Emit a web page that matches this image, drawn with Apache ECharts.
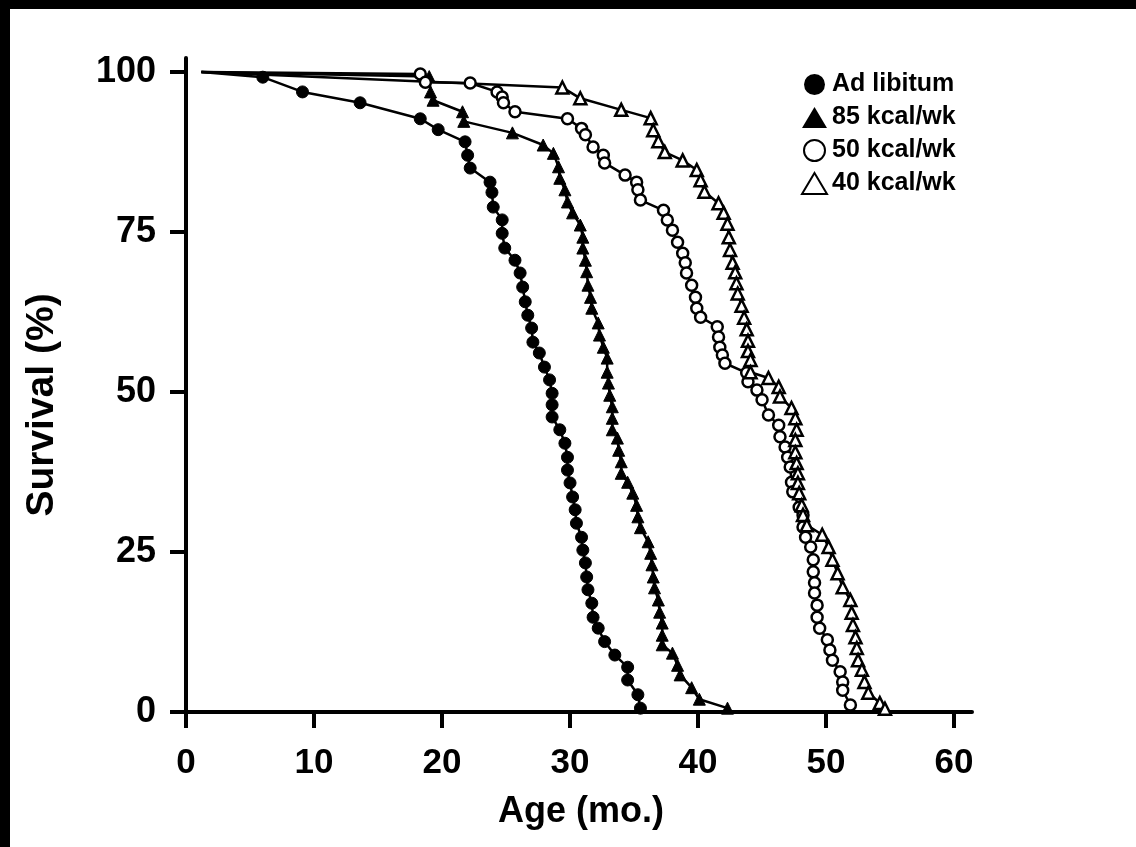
<!DOCTYPE html>
<html>
<head>
<meta charset="utf-8">
<script src="https://cdn.jsdelivr.net/npm/echarts@6/dist/echarts.min.js"></script>
<style>
  html, body { margin: 0; padding: 0; background: #fff; }
  #chart { width: 1136px; height: 847px; }
</style>
</head>
<body>
<div id="chart"></div>
<script>
// Survival curves: age in months, survival in %
var seriesNames = ['Ad libitum', '85 kcal/wk', '50 kcal/wk', '40 kcal/wk'];

var adLibAge = [1.2, 6.0, 9.1, 13.6, 18.3, 19.7, 21.8, 22.0, 22.2, 23.75, 23.9, 24.0, 24.7, 24.7, 24.9, 25.7, 26.1, 26.3, 26.5, 26.7, 27.0, 27.1, 27.6, 28.0, 28.4, 28.6, 28.6, 28.6, 29.2, 29.6, 29.8, 29.8, 30.0, 30.2, 30.4, 30.5, 30.9, 31.0, 31.2, 31.3, 31.4, 31.7, 31.8, 32.2, 32.7, 33.5, 34.5, 34.5, 35.3, 35.5];
var adLibSurv = [100, 99.2, 96.9, 95.2, 92.7, 91.0, 89.1, 87.0, 85.0, 82.8, 81.2, 78.9, 76.9, 74.8, 72.5, 70.6, 68.6, 66.4, 64.1, 62.0, 60.0, 57.8, 56.1, 53.9, 51.9, 49.8, 48.0, 46.1, 44.1, 42.0, 39.8, 37.8, 35.8, 33.6, 31.6, 29.5, 27.3, 25.3, 23.3, 21.1, 19.1, 17.0, 14.8, 13.1, 11.0, 8.9, 7.0, 5.0, 2.7, 0.6];

var kcal85Age = [1.2, 19.0, 19.1, 19.3, 21.6, 21.7, 25.5, 27.9, 28.7, 29.1, 29.2, 29.6, 29.8, 30.2, 30.8, 31.0, 31.0, 31.2, 31.3, 31.4, 31.6, 31.7, 32.2, 32.3, 32.6, 32.9, 32.9, 33.0, 33.1, 33.3, 33.3, 33.3, 33.7, 33.8, 34.0, 34.0, 34.5, 34.9, 35.2, 35.3, 35.5, 36.1, 36.3, 36.4, 36.5, 36.6, 36.9, 37.0, 37.2, 37.2, 37.2, 38.0, 38.4, 38.6, 39.5, 40.1, 42.3];
var kcal85Surv = [100, 99.3, 96.9, 95.6, 93.8, 92.3, 90.5, 88.6, 87.3, 85.2, 83.4, 81.6, 79.7, 78.0, 76.1, 74.2, 72.5, 70.6, 68.8, 66.7, 64.8, 63.1, 60.8, 58.9, 57.0, 55.3, 53.1, 51.4, 49.5, 47.7, 45.9, 44.1, 42.8, 40.9, 39.1, 37.3, 35.9, 34.2, 32.3, 30.5, 28.8, 26.6, 24.8, 23.0, 21.1, 19.4, 17.5, 15.6, 13.9, 12.0, 10.5, 9.2, 7.3, 5.8, 3.8, 2.0, 0.6];

var kcal50Age = [1.2, 18.3, 18.7, 22.2, 24.3, 24.7, 24.8, 25.7, 29.8, 30.9, 31.2, 31.8, 32.6, 32.7, 34.3, 35.2, 35.3, 35.5, 37.3, 37.6, 38.0, 38.4, 38.8, 39.0, 39.1, 39.5, 39.8, 39.9, 40.2, 41.5, 41.6, 41.7, 41.9, 42.1, 43.8, 43.9, 44.6, 45.0, 45.5, 46.3, 46.4, 46.8, 47.0, 47.2, 47.3, 47.4, 47.9, 48.2, 48.2, 48.4, 48.8, 49.0, 49.0, 49.1, 49.1, 49.3, 49.3, 49.5, 50.1, 50.3, 50.5, 51.1, 51.3, 51.3, 51.9];
var kcal50Surv = [100, 99.7, 98.4, 98.3, 96.9, 96.1, 95.2, 93.8, 92.7, 91.2, 90.2, 88.3, 87.0, 85.8, 83.9, 82.8, 81.6, 80.0, 78.4, 76.9, 75.3, 73.4, 71.7, 70.2, 68.6, 66.7, 64.8, 63.1, 61.7, 60.2, 58.6, 57.0, 55.8, 54.5, 53.0, 51.6, 50.3, 48.8, 46.4, 44.8, 43.0, 41.4, 39.8, 38.3, 35.9, 34.4, 32.0, 30.8, 28.9, 27.3, 25.8, 23.8, 21.9, 20.2, 18.6, 16.7, 14.8, 13.1, 11.3, 9.7, 8.1, 6.3, 4.7, 3.4, 1.1];

var kcal40Age = [1.2, 29.4, 30.8, 34.0, 36.3, 36.5, 36.9, 37.4, 38.8, 39.9, 40.2, 40.5, 41.6, 42.0, 42.3, 42.4, 42.5, 42.7, 42.9, 43.0, 43.1, 43.4, 43.6, 43.8, 43.9, 43.9, 44.1, 44.1, 45.5, 46.3, 46.4, 47.3, 47.6, 47.7, 47.6, 47.6, 47.7, 47.8, 47.8, 47.9, 48.1, 48.2, 48.5, 49.7, 50.2, 50.5, 50.9, 51.3, 51.9, 52.0, 52.1, 52.3, 52.4, 52.5, 52.8, 53.0, 53.3, 54.2, 54.6];
var kcal40Surv = [100, 97.6, 95.9, 94.1, 92.8, 90.9, 89.2, 87.5, 86.2, 84.7, 83.1, 81.3, 79.5, 78.0, 76.3, 74.2, 72.2, 70.2, 68.7, 67.0, 65.4, 63.5, 61.6, 59.8, 58.0, 56.4, 55.0, 53.1, 52.2, 50.8, 49.3, 47.5, 45.9, 44.1, 42.5, 40.6, 38.9, 37.3, 35.8, 34.2, 32.3, 30.8, 29.2, 27.7, 25.8, 23.8, 21.7, 19.5, 17.5, 15.5, 13.6, 11.7, 10.0, 8.1, 6.6, 4.7, 3.0, 1.4, 0.5];

var xTicks = [0, 10, 20, 30, 40, 50, 60];
var yTicks = [0, 25, 50, 75, 100];

var FONT = 'Liberation Sans, Arial, sans-serif';

function pairs(ages, surv) {
	return ages.map(function (a, i) {
		var item = { value: [a, surv[i]] };
		if (i === 0) item.symbol = 'none';  // curves start from a shared point, no marker there
		return item;
	});
}

function makeSeries(name, ages, surv, symbol, filled, size) {
	return {
		name: name,
		type: 'line',
		data: pairs(ages, surv),
		symbol: symbol,
		symbolSize: size,
		showAllSymbol: true,
		animation: false,
		lineStyle: { color: '#000', width: 2.5 },
		itemStyle: filled
			? { color: '#000', borderColor: '#000', borderWidth: 1 }
			: { color: '#fff', borderColor: '#000', borderWidth: 2.5 }
	};
}

var chart = echarts.init(document.getElementById('chart'));

var option = {
	backgroundColor: '#fff',
	animation: false,
	grid: { left: 186, top: 58, width: 786, height: 654 },
	legend: {
		orient: 'vertical',
		left: 796,
		top: 67,
		itemWidth: 25,
		itemHeight: 21,
		itemGap: 8,
		selectedMode: false,
		textStyle: { fontFamily: FONT, fontWeight: 'bold', fontSize: 25, color: '#000' },
		data: [
			{ name: seriesNames[0], icon: 'circle', itemStyle: { color: '#000', borderWidth: 0 } },
			{ name: seriesNames[1], icon: 'triangle', itemStyle: { color: '#000', borderWidth: 0 } },
			{ name: seriesNames[2], icon: 'circle', itemStyle: { color: '#fff', borderColor: '#000', borderWidth: 2 } },
			{ name: seriesNames[3], icon: 'triangle', itemStyle: { color: '#fff', borderColor: '#000', borderWidth: 2 } }
		]
	},
	xAxis: {
		type: 'value',
		min: 0,
		max: 61.4,
		name: 'Age (mo.)',
		nameLocation: 'middle',
		nameGap: 82,
		nameTextStyle: { fontFamily: FONT, fontWeight: 'bold', fontSize: 36, color: '#000', padding: [0, 0, 0, 4] },
		splitLine: { show: false },
		axisLine: { lineStyle: { color: '#000', width: 4 } },
		axisTick: { customValues: xTicks, length: 16, lineStyle: { color: '#000', width: 4 } },
		axisLabel: {
			customValues: xTicks,
			margin: 34,
			fontFamily: FONT, fontWeight: 'bold', fontSize: 35, color: '#000'
		}
	},
	yAxis: {
		type: 'value',
		min: 0,
		max: 102.2,
		name: 'Survival (%)',
		nameLocation: 'middle',
		nameRotate: 90,
		nameGap: 124,
		nameTextStyle: { fontFamily: FONT, fontWeight: 'bold', fontSize: 39, color: '#000', padding: [0, 40, 0, 0] },
		splitLine: { show: false },
		axisLine: { show: true, lineStyle: { color: '#000', width: 4 } },
		axisTick: { show: true, customValues: yTicks, length: 16, lineStyle: { color: '#000', width: 4 } },
		axisLabel: {
			customValues: yTicks,
			margin: 30,
			padding: [8, 0, 0, 0],
			fontFamily: FONT, fontWeight: 'bold', fontSize: 36, color: '#000'
		}
	},
	graphic: [
		{ type: 'rect', shape: { x: 0, y: 0, width: 1136, height: 9 }, style: { fill: '#000' } },
		{ type: 'rect', shape: { x: 0, y: 0, width: 10, height: 847 }, style: { fill: '#000' } }
	],
	series: [
		makeSeries(seriesNames[0], adLibAge, adLibSurv, 'circle', true, 12),
		makeSeries(seriesNames[1], kcal85Age, kcal85Surv, 'triangle', true, 12),
		makeSeries(seriesNames[2], kcal50Age, kcal50Surv, 'circle', false, 11),
		makeSeries(seriesNames[3], kcal40Age, kcal40Surv, 'triangle', false, 12)
	]
};

chart.setOption(option);
</script>
</body>
</html>
